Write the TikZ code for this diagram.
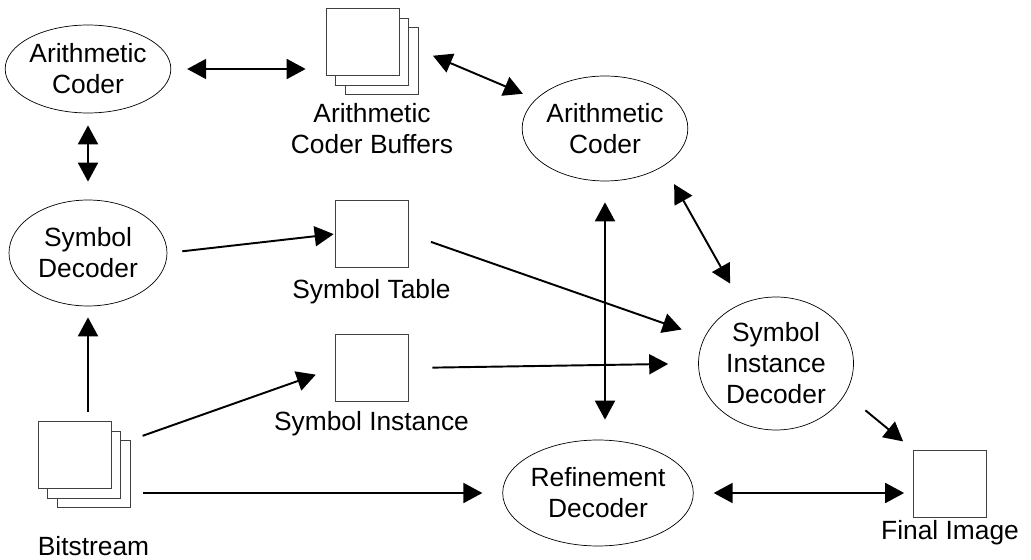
\documentclass[tikz,border=0pt]{standalone}
\usepackage{fontspec}
\setmainfont{Liberation Sans}
\usetikzlibrary{shapes, arrows.meta, positioning}
\tikzstyle{coder} = [draw, ellipse, thin, inner sep=0pt, align=center, font=\fontsize{15}{17.6}\selectfont]
\tikzstyle{buffer} = [draw=black!75, fill=white, rectangle, thin, minimum width=1.46cm, minimum height=1.34cm, inner sep=0pt]
\tikzstyle{caption} = [inner sep=0pt, align=center, font=\fontsize{15}{17.6}\selectfont]
\tikzstyle{flow} = [-{Triangle[length=0.38cm, width=0.4cm]}, line width=1.1pt]
\tikzstyle{flowboth} = [{Triangle[length=0.38cm, width=0.4cm]}-{Triangle[length=0.38cm, width=0.4cm]}, line width=1.1pt]

\begin{document}
\begin{tikzpicture}[x=0.02cm, y=-0.02cm]
	\useasboundingbox (0,0) rectangle (1031,560);
	% decoders
	\node[coder, minimum width=3.16cm, minimum height=1.76cm] (ac1) at (88,69) {Arithmetic\\Coder};
	\node[coder, minimum width=3.16cm, minimum height=2.12cm] (sd) at (88,253) {Symbol\\Decoder};
	\node[coder, minimum width=3.12cm, minimum height=2.1cm] (ac2) at (605,128.5) {Arithmetic\\Coder};
	\node[coder, minimum width=3.1cm, minimum height=2.66cm] (sid) at (776,363.5) {Symbol\\Instance\\Decoder};
	\node[coder, minimum width=3.6cm, minimum height=2.12cm] (rd) at (598,493) {Refinement\\Decoder};
	% buffers
	\node[buffer] (bufc) at (381.5,61) {};
	\node[buffer] (bufb) at (372,51.5) {};
	\node[buffer] (buf) at (362.5,41.5) {};
	\node[caption, below=0.36cm of bufb] (buflbl) {Arithmetic\\Coder Buffers};
	\node[buffer] (symtab) at (371.5,234) {};
	\node[caption, below=0.22cm of symtab] (symtablbl) {Symbol Table};
	\node[buffer] (syminst) at (371.5,368) {};
	\node[caption, below=0.18cm of syminst] (syminstlbl) {Symbol Instance};
	\node[buffer] (bsc) at (93.5,474) {};
	\node[buffer] (bsb) at (84,464.5) {};
	\node[buffer] (bs) at (74.5,455) {};
	\node[caption, below=0.56cm of bsc] (bslbl) {Bitstream};
	\node[buffer] (final) at (950,483.5) {};
	\node[caption, below=0.06cm of final] (finallbl) {Final Image};
	% connections
	\draw[flowboth, shorten <=0.32cm, shorten >=0.4cm] (ac1.east) -- (ac1.east -| buf.west);
	\draw[flowboth, shorten <=0.73cm, shorten >=0.28cm] (buf.east) -- (ac2);
	\draw[flowboth, shorten <=0.24cm, shorten >=0.36cm] (ac1.south) -- (sd.north);
	\draw[flow, shorten <=0.3cm, shorten >=0.02cm] (sd.east) -- (symtab.west);
	\draw[flow, shorten <=0.48cm, shorten >=0.48cm] (symtab.east) -- (sid.160);
	\draw[flow, shorten <=0.48cm, shorten >=0.6cm] (syminst.east) -- (sid.west);
	\draw[flow, shorten <=0.26cm, shorten >=0.4cm] (bsc.north east) -- (syminst.west);
	\draw[flow, shorten <=0.26cm, shorten >=0.4cm] (bsc.east |- rd.west) -- (rd.west);
	\draw[flow, shorten <=0.19cm, shorten >=0.22cm] (sd.south |- bs.north) -- (sd.south);
	\draw[flowboth, shorten <=0.42cm, shorten >=0.46cm] (ac2.south east) -- (sid.120);
	\draw[flowboth, shorten <=0.42cm, shorten >=0.4cm] (ac2.south) -- (ac2.south |- rd.north);
	\draw[flow, shorten <=0.3cm, shorten >=0.26cm] (sid.east |- sid.330) -- (final.north west);
	\draw[flowboth, shorten <=0.4cm, shorten >=0.18cm] (rd.east) -- (rd.east -| final.west);
\end{tikzpicture}
\end{document}
